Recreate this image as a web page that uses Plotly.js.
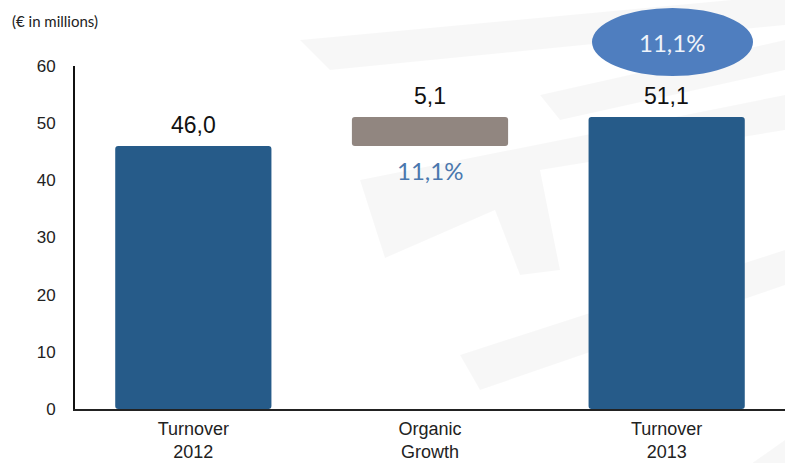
<!DOCTYPE html>
<html>
<head>
<meta charset="utf-8">
<script src="https://cdn.plot.ly/plotly-3.0.1.min.js"></script>
<style>html,body{margin:0;padding:0;background:#fff;}#chart{width:785px;height:463px;}</style>
</head>
<body>
<div id="chart"></div>
<script>
// ---- data ----
var categories = ["Turnover<br>2012", "Organic<br>Growth", "Turnover<br>2013"];
var barValues = [46.0, 5.1, 51.1];
var barBases = [0, 46.0, 0];
var barColors = ["#265B89", "#918680", "#265B89"];
var growthPct = 11.1;
var yTicks = [0, 10, 20, 30, 40, 50, 60];

// ---- layout helpers (decoration only) ----
var L = 75, B = 409, W = 710, H = 343;
function px(x) { return (x - L) / W; }
function py(y) { return (B - y) / H; }
function path(pts) {
  return pts.map(function (p, i) { return (i ? "L" : "M") + px(p[0]) + "," + py(p[1]); }).join(" ") + " Z";
}
var bandColor = "rgba(0,0,0,0.03)";
var deco = [
  [[300, 40], [785, -5], [785, 25], [330, 70]],
  [[540, 95], [785, 40], [785, 70], [560, 120]],
  [[360, 180], [785, 95], [785, 130], [540, 170], [560, 270], [520, 275], [495, 210], [385, 258]],
  [[460, 355], [785, 250], [785, 285], [480, 390]],
  [[700, 500], [785, 440], [785, 475], [720, 520]]
];
var shapes = deco.map(function (p) {
  return { type: "path", xref: "paper", yref: "paper", path: path(p), fillcolor: bandColor, line: { width: 0 }, layer: "below" };
});
shapes.push({
  type: "circle", xref: "paper", yref: "paper",
  x0: px(592), x1: px(753), y0: py(76), y1: py(8),
  fillcolor: "#4F7EBF", line: { width: 0 }, layer: "above"
});

var tops = barValues.map(function (v, i) { return v + barBases[i]; });
var annotations = categories.map(function (c, i) {
  return {
    x: c, y: tops[i], xref: "x", yref: "y",
    text: barValues[i].toFixed(1).replace(".", ","),
    showarrow: false, yanchor: "bottom", yshift: 6,
    font: { family: "Liberation Sans, Arial, sans-serif", size: 23, color: "#111" }
  };
});
annotations.push({
  x: categories[1], y: barBases[1], xref: "x", yref: "y",
  text: growthPct.toFixed(1).replace(".", ",") + "%",
  showarrow: false, yanchor: "top", yshift: -8,
  font: { family: "Lato, sans-serif", size: 24, color: "#4A77AE" }
});
annotations.push({
  x: px(672), y: py(43), xref: "paper", yref: "paper",
  text: growthPct.toFixed(1).replace(".", ",") + "%",
  showarrow: false, xanchor: "center", yanchor: "middle",
  font: { family: "Lato, sans-serif", size: 24, color: "#EEF3FA" }
});
annotations.push({
  x: px(10), y: py(10), xref: "paper", yref: "paper", xanchor: "left", yanchor: "top",
  text: "(€ in millions)", showarrow: false,
  font: { family: "Lato, sans-serif", size: 15, color: "#222" }
});

var trace = {
  type: "bar",
  x: categories,
  y: barValues,
  base: barBases,
  width: 0.66,
  marker: { color: barColors, cornerradius: 3, line: { width: 0 } },
  hoverinfo: "skip"
};

var layout = {
  width: 785, height: 463,
  margin: { l: L, r: 0, t: 66, b: 54, pad: 0 },
  paper_bgcolor: "#ffffff", plot_bgcolor: "rgba(0,0,0,0)",
  showlegend: false,
  separators: ",.",
  xaxis: {
    type: "category",
    showline: true, linecolor: "#222", linewidth: 2,
    showgrid: false, zeroline: false, ticks: "",
    ticklabelstandoff: 2,
    tickfont: { family: "Liberation Sans, Arial, sans-serif", size: 18, color: "#222" },
    fixedrange: true
  },
  yaxis: {
    range: [0, 60], tickvals: yTicks,
    showline: true, linecolor: "#111", linewidth: 2,
    showgrid: false, zeroline: false, ticks: "",
    ticklabelstandoff: 14,
    tickfont: { family: "Liberation Sans, Arial, sans-serif", size: 17, color: "#222" },
    fixedrange: true
  },
  shapes: shapes,
  annotations: annotations
};

Plotly.newPlot("chart", [trace], layout, { displayModeBar: false, staticPlot: true });
</script>
</body>
</html>
